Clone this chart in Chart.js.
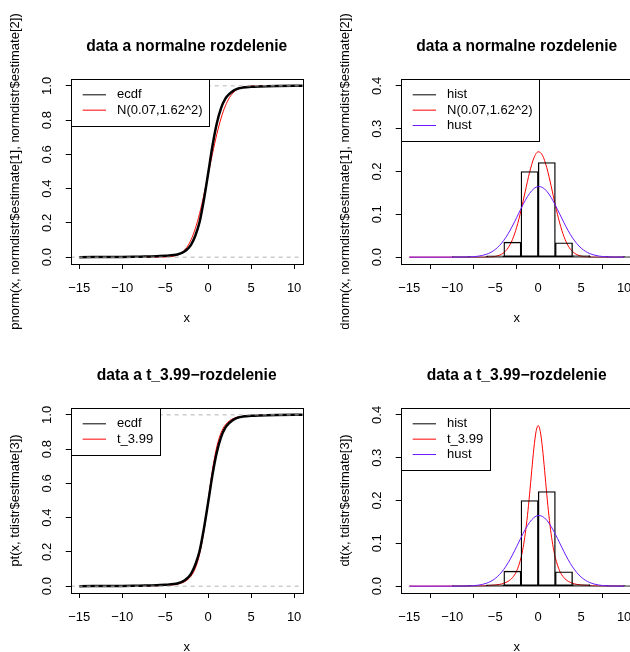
<!DOCTYPE html>
<html><head><meta charset="utf-8">
<script src="https://cdn.jsdelivr.net/npm/chart.js@4.4.1/dist/chart.umd.min.js"></script>
<style>
html,body{margin:0;padding:0;background:#fff;overflow:hidden}
#wrap{position:relative;width:630px;height:652px;overflow:hidden;background:#fff}
canvas{position:absolute}
</style></head><body>
<div id="wrap">
<canvas id="c1" width="330" height="329" style="left:0;top:0"></canvas>
<canvas id="c2" width="330" height="329" style="left:330px;top:0"></canvas>
<canvas id="c3" width="330" height="329" style="left:0;top:329px"></canvas>
<canvas id="c4" width="330" height="329" style="left:330px;top:329px"></canvas>
</div>
<script>
// ---- tick values / labels ----
const xTicks = [-15, -10, -5, 0, 5, 10];
const xTickLabels = ['\u221215', '\u221210', '\u22125', '0', '5', '10'];
const cdfTicks = [0, 0.2, 0.4, 0.6, 0.8, 1.0];
const cdfTickLabels = ['0.0', '0.2', '0.4', '0.6', '0.8', '1.0'];
const pdfTicks = [0, 0.1, 0.2, 0.3, 0.4];
const pdfTickLabels = ['0.0', '0.1', '0.2', '0.3', '0.4'];
const refLines = [0, 1];

// ---- empirical cdf of the data ----
const ecdfX = [-15, -10, -8, -6, -5, -4, -3.5, -3, -2.5, -2, -1.5, -1, -0.5, 0, 0.5, 1, 1.5, 2, 2.5, 3, 3.5, 4, 5, 6, 8, 10, 11];
const ecdfY = [0, 0.001, 0.003, 0.005, 0.008, 0.012, 0.017, 0.026, 0.043, 0.072, 0.125, 0.205, 0.335, 0.49, 0.65, 0.78, 0.87, 0.925, 0.955, 0.974, 0.985, 0.99, 0.995, 0.997, 0.999, 1, 1];

// ---- fitted normal cdf ----
const normCdfX = [-15, -6, -5, -4.5, -4, -3.5, -3, -2.5, -2, -1.5, -1, -0.5, 0, 0.5, 1, 1.5, 2, 2.5, 3, 3.5, 4, 4.5, 5, 6, 10];
const normCdfY = [0, 0.0001, 0.0009, 0.0024, 0.0060, 0.0138, 0.0290, 0.0564, 0.1006, 0.1662, 0.2545, 0.3624, 0.4828, 0.6046, 0.7170, 0.8113, 0.8832, 0.9332, 0.9648, 0.9829, 0.9924, 0.9969, 0.9988, 0.9999, 1];

// ---- t cdf ----
const tCdfX = [-15, -10, -8, -6, -5, -4, -3.5, -3, -2.5, -2, -1.75, -1.5, -1.25, -1, -0.75, -0.5, -0.25, 0, 0.25, 0.5, 0.75, 1, 1.25, 1.5, 1.75, 2, 2.5, 3, 3.5, 4, 5, 6, 8, 10];
const tCdfY = [0.0001, 0.0003, 0.0007, 0.0020, 0.0037, 0.0081, 0.0125, 0.0200, 0.0334, 0.0581, 0.0775, 0.1040, 0.1397, 0.1870, 0.2475, 0.3217, 0.4074, 0.5, 0.5926, 0.6783, 0.7525, 0.8130, 0.8603, 0.8960, 0.9225, 0.9419, 0.9666, 0.9800, 0.9875, 0.9919, 0.9963, 0.9980, 0.9993, 0.9997];

// ---- fitted normal density ----
const normPdfX = [-15, -7, -6.5, -6, -5.5, -5, -4.5, -4, -3.5, -3, -2.5, -2, -1.5, -1, -0.5, 0, 0.5, 1, 1.5, 2, 2.5, 3, 3.5, 4, 4.5, 5, 5.5, 6, 6.5, 7, 10];
const normPdfY = [0, 0, 0.0001, 0.0002, 0.0007, 0.0018, 0.0046, 0.0105, 0.0217, 0.0409, 0.0700, 0.1089, 0.1540, 0.1981, 0.2315, 0.2461, 0.2378, 0.2089, 0.1668, 0.1211, 0.0800, 0.0480, 0.0262, 0.0130, 0.0059, 0.0024, 0.0009, 0.0003, 0.0001, 0, 0];

// ---- t density ----
const tPdfX = [-15, -12, -10, -8, -7, -6, -5, -4.5, -4, -3.5, -3, -2.5, -2, -1.75, -1.5, -1.25, -1, -0.75, -0.5, -0.25, 0, 0.25, 0.5, 0.75, 1, 1.25, 1.5, 1.75, 2, 2.5, 3, 3.5, 4, 4.5, 5, 6, 7, 8, 10];
const tPdfY = [0, 0, 0.0001, 0.0003, 0.0006, 0.0012, 0.0027, 0.0041, 0.0067, 0.0113, 0.0197, 0.0357, 0.0663, 0.0905, 0.1229, 0.1644, 0.2147, 0.2699, 0.3222, 0.3607, 0.375, 0.3607, 0.3222, 0.2699, 0.2147, 0.1644, 0.1229, 0.0905, 0.0663, 0.0357, 0.0197, 0.0113, 0.0067, 0.0041, 0.0027, 0.0012, 0.0006, 0.0003, 0.0001];

// ---- kernel density ("hust") ----
const hustX = [-15, -12, -10, -9, -8.5, -8, -7.5, -7, -6.5, -6, -5.5, -5, -4.5, -4, -3.5, -3, -2.5, -2, -1.5, -1, -0.5, 0, 0.5, 1, 1.5, 2, 2.5, 3, 3.5, 4, 4.5, 5, 5.5, 6, 6.5, 7, 7.5, 8, 8.5, 9, 10];
const hustY = [0, 0, 0.00005, 0.0002, 0.0004, 0.0006, 0.0012, 0.0022, 0.0040, 0.0069, 0.0113, 0.0179, 0.0271, 0.0393, 0.0545, 0.0726, 0.0926, 0.1132, 0.1326, 0.1488, 0.1600, 0.1649, 0.1628, 0.1540, 0.1396, 0.1212, 0.1009, 0.0805, 0.0615, 0.0450, 0.0316, 0.0212, 0.0137, 0.0084, 0.0050, 0.0028, 0.0015, 0.0008, 0.0004, 0.0002, 0.00005];

// ---- histogram (density, bin width 2) ----
const histCenters = [-9, -7, -5, -3, -1, 1, 3, 5, 7, 9, 11];
const histDensity = [0.0005, 0.001, 0.003, 0.035, 0.2, 0.221, 0.0335, 0.0035, 0.001, 0.0005, 0.0005];
const histBaseX = [-10, 12];

const FONT = '"Liberation Sans", Arial, Helvetica, sans-serif';
Chart.defaults.font.family = FONT;
Chart.defaults.color = '#000';

const pts = (xs, ys) => xs.map((x, i) => ({x: x, y: ys[i]}));
const BLUE = '#6a1aff';

const rPlugin = {
  id: 'rdeco',
  afterDraw(chart, args, opts) {
    const ctx = chart.ctx, a = chart.chartArea;
    ctx.save();
    const L = Math.round(a.left) + 0.5, T = Math.round(a.top) + 0.5;
    const R = Math.round(a.right) + 0.5, B = Math.round(a.bottom) + 0.5;
    ctx.strokeStyle = '#000'; ctx.lineWidth = 1;
    ctx.strokeRect(L, T, R - L, B - T);
    // legend
    ctx.font = '13px ' + FONT;
    const labels = opts.labels, colors = opts.colors;
    let tw = 0;
    labels.forEach(t => { tw = Math.max(tw, ctx.measureText(t).width); });
    const w = Math.round(46.3 + tw + 6.6);
    const h = Math.round(31.4 + (labels.length - 1) * 15.35);
    ctx.fillStyle = '#fff';
    ctx.fillRect(L, T, w, h);
    ctx.strokeRect(L, T, w, h);
    labels.forEach((t, i) => {
      const y = a.top + 15.8 + i * 15.35;
      ctx.beginPath();
      ctx.strokeStyle = colors[i];
      ctx.moveTo(a.left + 12, y); ctx.lineTo(a.left + 35.3, y);
      ctx.stroke();
      ctx.fillStyle = '#000';
      ctx.textBaseline = 'middle'; ctx.textAlign = 'left';
      ctx.fillText(t, a.left + 46.3, y);
    });
    ctx.restore();
  }
};

function lineDS(label, data, color, width, extra) {
  return Object.assign({type: 'line', label: label, data: data, borderColor: color, borderWidth: width,
    pointRadius: 0, fill: false, cubicInterpolationMode: 'monotone'}, extra || {});
}

function makeChart(id, o) {
  new Chart(document.getElementById(id), {
    type: 'line',
    data: {datasets: o.datasets},
    options: {
      responsive: false, animation: false, devicePixelRatio: 1,
      layout: {padding: {left: 0, right: 27.3, top: 0, bottom: 0}},
      plugins: {
        legend: {display: false}, tooltip: {enabled: false},
        title: {display: true, text: o.title, fullSize: false, color: '#000',
          font: {size: 15.6, weight: 'bold', family: FONT}, padding: {top: 37.3, bottom: 23}},
        rdeco: {labels: o.legend, colors: o.legendColors}
      },
      scales: {
        x: {
          type: 'linear', min: -16, max: 11, offset: false,
          afterBuildTicks: s => { s.ticks = xTicks.map(v => ({value: v})); },
          afterFit: s => { s.height = 65; },
          ticks: {autoSkip: false, maxRotation: 0, padding: 11.2, color: '#000', font: {size: 13},
            callback: (v, i) => xTickLabels[i]},
          grid: {drawOnChartArea: false, drawTicks: true, tickLength: 5, color: '#000', lineWidth: 1},
          border: {display: false},
          title: {display: true, text: 'x', color: '#000', font: {size: 13}, padding: {top: 0, bottom: 3.2}}
        },
        y: {
          type: 'linear', min: o.ymin, max: o.ymax,
          afterBuildTicks: s => { s.ticks = o.yTicks.map(v => ({value: v})); },
          afterFit: s => { s.width = 70.7; },
          ticks: {autoSkip: false, minRotation: 90, maxRotation: 90, crossAlign: 'center', padding: 9.7,
            color: '#000', font: {size: 13}, callback: (v, i) => o.yTickLabels[i]},
          grid: {drawOnChartArea: false, drawTicks: true, tickLength: 5, color: '#000', lineWidth: 1},
          border: {display: false},
          title: {display: true, text: o.ylabel, color: '#000', font: {size: 13}, padding: {top: 7.7, bottom: 0}}
        }
      }
    },
    plugins: [rPlugin]
  });
}

function refDS() {
  return refLines.map(v => lineDS('ref' + v, [{x: -16, y: v}, {x: 11, y: v}], '#b3b3b3', 1,
    {borderDash: [4, 4], cubicInterpolationMode: 'default', tension: 0}));
}

function histDS() {
  return [
    {type: 'bar', label: 'hist', data: pts(histCenters, histDensity), backgroundColor: 'rgba(0,0,0,0)',
      borderColor: '#000', borderWidth: 0.7, borderSkipped: false, barPercentage: 1, categoryPercentage: 1},
    lineDS('base', pts(histBaseX, [0, 0]), '#555', 1, {cubicInterpolationMode: 'default', tension: 0})
  ];
}

makeChart('c1', {
  title: 'data a normalne rozdelenie',
  ylabel: 'pnorm(x, normdistr$estimate[1], normdistr$estimate[2])',
  ymin: -0.04, ymax: 1.04, yTicks: cdfTicks, yTickLabels: cdfTickLabels,
  legend: ['ecdf', 'N(0.07,1.62^2)'], legendColors: ['#000', '#ff0000'],
  datasets: [...refDS(), lineDS('ecdf', pts(ecdfX, ecdfY), '#000', 2.5), lineDS('N', pts(normCdfX, normCdfY), '#ff0000', 1)]
});

makeChart('c2', {
  title: 'data a normalne rozdelenie',
  ylabel: 'dnorm(x, normdistr$estimate[1], normdistr$estimate[2])',
  ymin: -0.016, ymax: 0.416, yTicks: pdfTicks, yTickLabels: pdfTickLabels,
  legend: ['hist', 'N(0.07,1.62^2)', 'hust'], legendColors: ['#000', '#ff0000', BLUE],
  datasets: [lineDS('hust', pts(hustX, hustY), BLUE, 1), ...histDS(), lineDS('N', pts(normPdfX, normPdfY), '#ff0000', 1)]
});

makeChart('c3', {
  title: 'data a t_3.99\u2212rozdelenie',
  ylabel: 'pt(x, tdistr$estimate[3])',
  ymin: -0.04, ymax: 1.04, yTicks: cdfTicks, yTickLabels: cdfTickLabels,
  legend: ['ecdf', 't_3.99'], legendColors: ['#000', '#ff0000'],
  datasets: [...refDS(), lineDS('ecdf', pts(ecdfX, ecdfY), '#000', 2.5), lineDS('t', pts(tCdfX, tCdfY), '#ff0000', 1)]
});

makeChart('c4', {
  title: 'data a t_3.99\u2212rozdelenie',
  ylabel: 'dt(x, tdistr$estimate[3])',
  ymin: -0.016, ymax: 0.416, yTicks: pdfTicks, yTickLabels: pdfTickLabels,
  legend: ['hist', 't_3.99', 'hust'], legendColors: ['#000', '#ff0000', BLUE],
  datasets: [lineDS('hust', pts(hustX, hustY), BLUE, 1), ...histDS(), lineDS('t', pts(tPdfX, tPdfY), '#ff0000', 1)]
});
</script>
</body></html>
